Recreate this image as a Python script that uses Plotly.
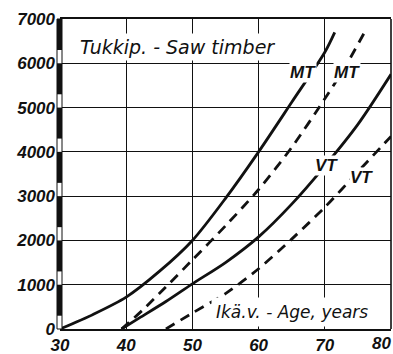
import plotly.graph_objects as go

# Axis ticks
x_ticks = [30, 40, 50, 60, 70, 80]
y_ticks = [0, 1000, 2000, 3000, 4000, 5000, 6000, 7000]

# Saw timber volume by stand age
mt_solid_age = [30, 35, 40, 45, 50, 55, 60, 65, 70, 71.5]
mt_solid_vol = [0, 330, 720, 1300, 2000, 2950, 4000, 5120, 6250, 6700]

mt_dash_age = [39.3, 42.5, 46, 50, 55, 60, 65, 70, 73, 76]
mt_dash_vol = [0, 430, 950, 1560, 2330, 3150, 4100, 5200, 5900, 6700]

vt_solid_age = [39.3, 42, 46, 50, 55, 60, 65, 70, 75, 80]
vt_solid_vol = [0, 250, 620, 1020, 1500, 2080, 2820, 3680, 4620, 5750]

vt_dash_age = [46, 50, 55, 60, 65, 70, 75, 80]
vt_dash_vol = [0, 360, 800, 1360, 2030, 2750, 3550, 4350]

INK = "#111111"
PAPER = "#ffffff"
FONT = "Liberation Sans"
CAPTION_FONT = "DejaVu Sans"

fig = go.Figure()

series = [
    (mt_solid_age, mt_solid_vol, "solid"),
    (mt_dash_age, mt_dash_vol, "10px,7px"),
    (vt_solid_age, vt_solid_vol, "solid"),
    (vt_dash_age, vt_dash_vol, "10px,7px"),
]
for ages, vols, dash in series:
    fig.add_trace(go.Scatter(
        x=ages, y=vols, mode="lines",
        line=dict(color=INK, width=2.8, dash=dash, shape="spline", smoothing=0.8),
        hoverinfo="skip", showlegend=False, cliponaxis=True,
    ))

tick_font = dict(family=FONT, size=17, color=INK, style="italic", weight="bold")

# Curve labels (white background breaks the lines)
curve_labels = [
    ("MT", 66.7, 5800),
    ("MT", 73.3, 5800),
    ("VT", 70.2, 3700),
    ("VT", 75.5, 3430),
]
annotations = []
for txt, ax_, ay_ in curve_labels:
    annotations.append(dict(
        x=ax_, y=ay_, xref="x", yref="y", text=txt, showarrow=False,
        font=dict(family=FONT, size=17, color=INK, style="italic", weight="bold"),
        bgcolor=PAPER, borderpad=0,
    ))

annotations.append(dict(
    x=47.8, y=6367, xref="x", yref="y", text="Tukkip. - Saw timber",
    showarrow=False, bgcolor=PAPER, borderpad=2,
    font=dict(family=CAPTION_FONT, size=19, color=INK, style="italic"),
))
annotations.append(dict(
    x=65.1, y=384, xref="x", yref="y", text="Ikä.v. - Age, years",
    showarrow=False, bgcolor=PAPER, borderpad=4,
    font=dict(family=CAPTION_FONT, size=17, color=INK, style="italic"),
))
# Last x tick label sits flush against the right edge
annotations.append(dict(
    x=x_ticks[-1], y=0, xref="x", yref="paper", text=str(x_ticks[-1]),
    showarrow=False, xanchor="right", yanchor="top", xshift=1, yshift=-4,
    borderpad=0, font=tick_font,
))

# Left axis drawn as a segmented ruler bar
plot_w = 331.0
shapes = []
bx0, bx1 = -3 / plot_w, 2 / plot_w
shapes.append(dict(type="rect", xref="paper", yref="paper", x0=bx0, x1=bx1, y0=0, y1=1,
                   line=dict(color=INK, width=1), fillcolor=PAPER, layer="above"))
ymax = y_ticks[-1]
for k in y_ticks[1:]:
    shapes.append(dict(type="rect", xref="paper", yref="paper", x0=bx0, x1=bx1,
                       y0=(k - 700) / ymax, y1=k / ymax,
                       line=dict(width=0), fillcolor=INK, layer="above"))
# Right frame edge
shapes.append(dict(type="line", xref="paper", yref="paper", x0=1, x1=1, y0=0, y1=1,
                   line=dict(color=INK, width=1.6), layer="above"))

x_ticktext = [str(v) for v in x_ticks[:-1]] + [""]

fig.update_layout(
    width=393, height=354,
    margin=dict(l=60, r=2, t=19, b=25, pad=0, autoexpand=False),
    paper_bgcolor=PAPER, plot_bgcolor=PAPER,
    showlegend=False,
    annotations=annotations,
    shapes=shapes,
    xaxis=dict(
        range=[30, 80], tickvals=x_ticks, ticktext=x_ticktext,
        showgrid=True, gridcolor=INK, gridwidth=1.3,
        showline=True, linecolor=INK, linewidth=2, mirror=True,
        zeroline=False, ticks="", tickfont=tick_font, ticklabelstandoff=0,
        ticklabeloverflow="allow", automargin=False, fixedrange=True,
    ),
    yaxis=dict(
        range=[0, 7000], tickvals=y_ticks, ticktext=[str(v) for v in y_ticks],
        showgrid=True, gridcolor=INK, gridwidth=1.3,
        showline=False, zeroline=False, ticks="", tickfont=tick_font,
        ticklabelstandoff=4, automargin=False, fixedrange=True,
    ),
)

fig.write_html("out.html")
